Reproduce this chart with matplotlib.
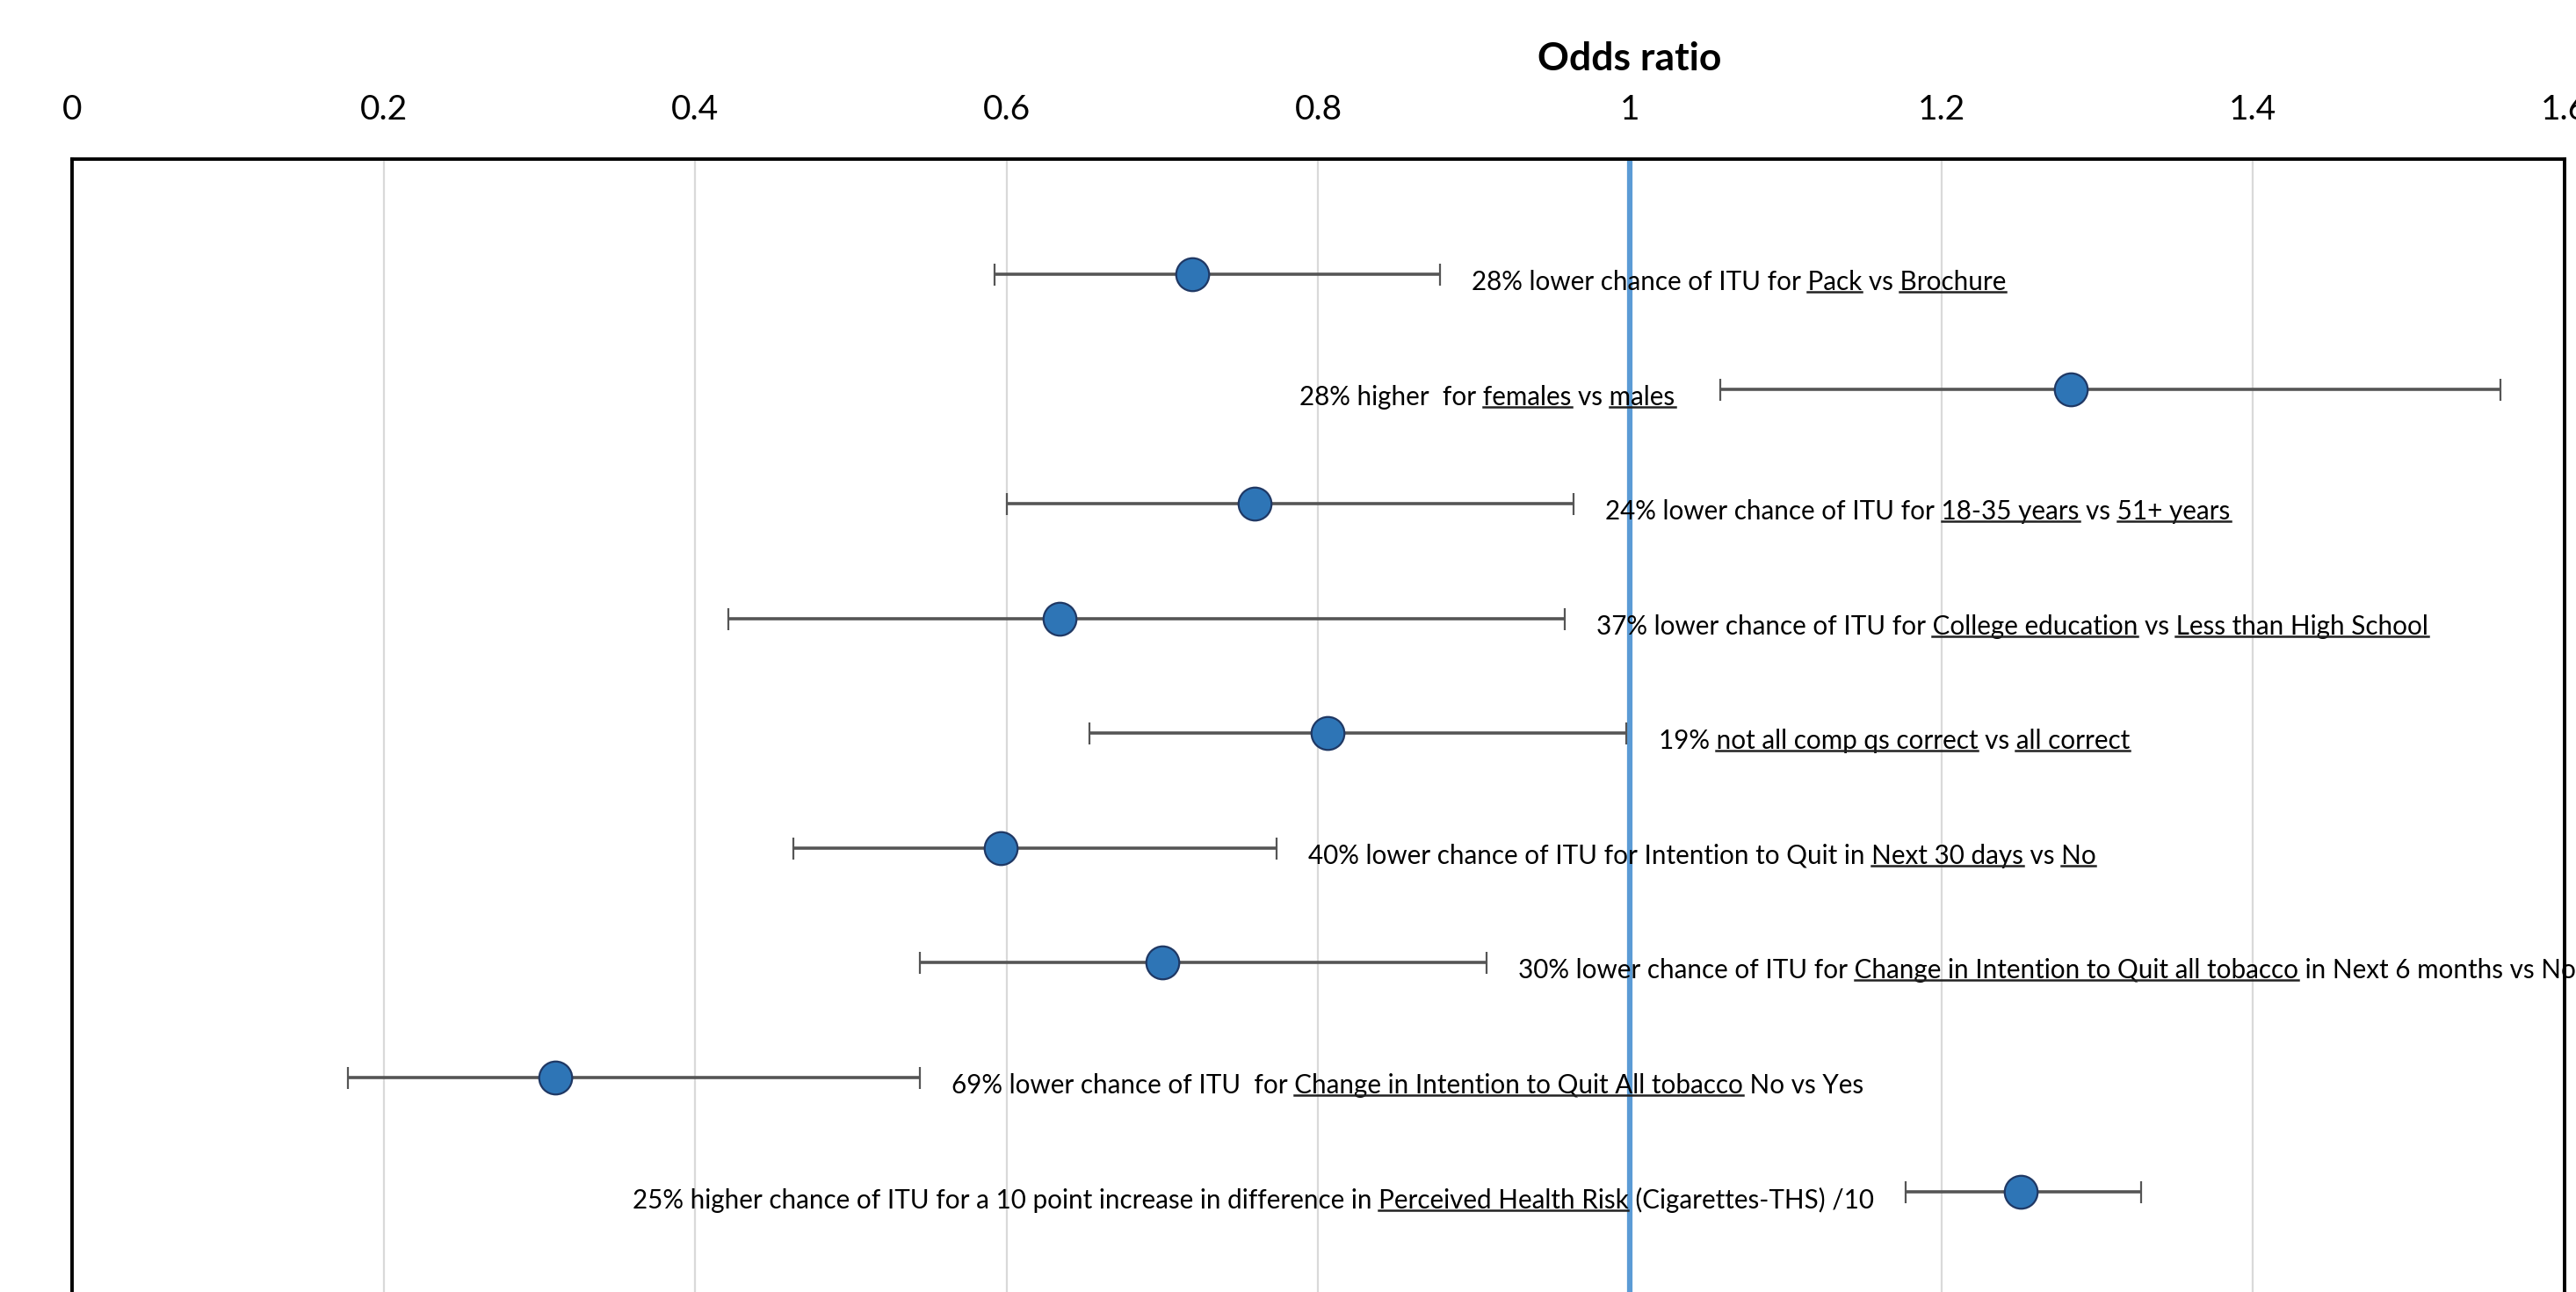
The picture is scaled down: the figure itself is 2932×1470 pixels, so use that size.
import matplotlib
matplotlib.use("Agg")
import matplotlib.pyplot as plt
from matplotlib.transforms import blended_transform_factory

plt.rcParams['font.family'] = ['Lato', 'DejaVu Sans']

# odds ratios with 95% CI, top row first
rows = [1, 2, 3, 4, 5, 6, 7, 8, 9]
odds = [0.719, 1.283, 0.759, 0.634, 0.806, 0.596, 0.700, 0.310, 1.251]
ci_low = [0.592, 1.058, 0.600, 0.421, 0.653, 0.463, 0.544, 0.177, 1.177]
ci_high = [0.878, 1.559, 0.964, 0.958, 0.998, 0.773, 0.908, 0.544, 1.328]

# label pieces: (text, underlined)
labels = [
    [("28% lower chance of ITU for ", False), ("Pack", True), (" vs ", False), ("Brochure", True)],
    [("28% higher  for ", False), ("females", True), (" vs ", False), ("males", True), ("  ", False)],
    [("24% lower chance of ITU for ", False), ("18-35 years", True), (" vs ", False), ("51+ years", True)],
    [("37% lower chance of ITU for ", False), ("College education", True), (" vs ", False),
     ("Less than High School", True)],
    [("19% ", False), ("not all comp qs correct", True), (" vs ", False), ("all correct", True)],
    [("40% lower chance of ITU for Intention to Quit in ", False), ("Next 30 days", True),
     (" vs ", False), ("No", True)],
    [("30% lower chance of ITU for ", False), ("Change in Intention to Quit all tobacco ", True),
     ("in Next 6 months vs No", False)],
    [("69% lower chance of ITU  for ", False), ("Change in Intention to Quit All tobacco ", True),
     ("No vs Yes", False)],
    [("25% higher chance of ITU for a 10 point increase in difference in ", False),
     ("Perceived Health Risk ", True), ("(Cigarettes-THS) /10", False)],
]
# which side of the error bar the label sits on
label_side = ["right", "left", "right", "right", "right", "right", "right", "right", "left"]

xticks = [0, 0.2, 0.4, 0.6, 0.8, 1, 1.2, 1.4, 1.6]
xtick_labels = ["0", "0.2", "0.4", "0.6", "0.8", "1", "1.2", "1.4", "1.6"]

fig = plt.figure(figsize=(29.32, 14.70), dpi=100)
ax = fig.add_axes([0.028, -0.0116, 0.9675, 0.8882])

ax.set_xlim(0, 1.6)
ax.set_ylim(10, 0)
ax.set_yticks([])
ax.set_xticks(xticks)
ax.set_xticklabels(xtick_labels)
ax.xaxis.tick_top()
ax.tick_params(axis='x', length=0, pad=28, labelsize=28)
for s in ax.spines.values():
    s.set_linewidth(2.8)
    s.set_color('black')
ax.grid(axis='x', color='#d9d9d9', linewidth=1.6)
ax.set_axisbelow(True)

ax.axvline(1.0, color='#5b9bd5', linewidth=4.5, zorder=2)

xerr = [[o - lo for o, lo in zip(odds, ci_low)], [hi - o for o, hi in zip(odds, ci_high)]]
ax.errorbar(odds, rows, xerr=xerr, fmt='o', color='#555555', ecolor='#555555',
            elinewidth=2.6, capsize=9, capthick=2.2, markersize=27,
            markerfacecolor='#2e75b6', markeredgecolor='#1f3864', markeredgewidth=1.6, zorder=3)

ax.text(1.0, 1.088, "Odds ratio", transform=blended_transform_factory(ax.transData, ax.transAxes),
        ha='center', va='center', fontsize=32, fontweight='bold')

fs = 21.3
texts = []
for i in range(len(rows)):
    full = "".join(p for p, u in labels[i])
    if label_side[i] == "right":
        t = ax.annotate(full, xy=(ci_high[i], rows[i] + 0.07), xytext=(26, 0),
                        textcoords='offset points', ha='left', va='center', fontsize=fs,
                        annotation_clip=False, zorder=4)
    else:
        t = ax.annotate(full, xy=(ci_low[i], rows[i] + 0.07), xytext=(-26, 0),
                        textcoords='offset points', ha='right', va='center', fontsize=fs,
                        annotation_clip=False, zorder=4)
    texts.append(t)

# underlines under the marked words
fig.canvas.draw()
renderer = fig.canvas.get_renderer()


def text_width(s, prop):
    w1, _, _ = renderer.get_text_width_height_descent(s + "|", prop, ismath=False)
    w2, _, _ = renderer.get_text_width_height_descent("|", prop, ismath=False)
    return w1 - w2


inv = ax.transData.inverted()
for t, parts in zip(texts, labels):
    bb = t.get_window_extent(renderer)
    prop = t.get_fontproperties()
    prefix = ""
    for p, u in parts:
        if u:
            x0 = bb.x0 + text_width(prefix, prop)
            x1 = bb.x0 + text_width(prefix + p.rstrip(), prop)
            y = bb.y0 + 3
            (dx0, dy), (dx1, _) = inv.transform([(x0, y), (x1, y)])
            ax.plot([dx0, dx1], [dy, dy], color='#222222', linewidth=1.8, clip_on=False, zorder=4)
        prefix += p

fig.savefig("out.png", dpi=100)
